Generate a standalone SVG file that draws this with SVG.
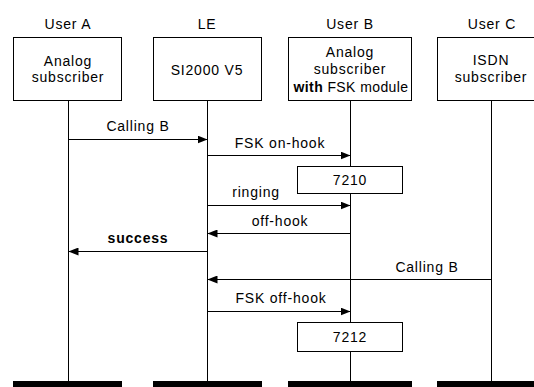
<svg xmlns="http://www.w3.org/2000/svg" width="534" height="387" viewBox="0 0 534 387">
<defs>
<style>
text{font-family:"Liberation Sans",Arial,sans-serif;font-size:14px;letter-spacing:0.8px;fill:#000;text-anchor:middle}
.b{font-weight:bold}
.tight{letter-spacing:0.4px}
.box{fill:#fff;stroke:#000;stroke-width:1}
.life{stroke:#000;stroke-width:1;fill:none}
.msg{stroke:#000;stroke-width:1;fill:none}
.bar{fill:#000}
</style>
<marker id="ah" viewBox="0 0 10 8" refX="10" refY="4" markerWidth="10" markerHeight="8" markerUnits="userSpaceOnUse" orient="auto">
<path d="M0,0 L10,4 L0,8 Z" fill="#000"/>
</marker>
</defs>
<rect width="534" height="387" fill="#fff"/>
<g id="lifelines">
<line class="life" x1="68.5" y1="101" x2="68.5" y2="381"/>
<line class="life" x1="207.5" y1="101" x2="207.5" y2="381"/>
<line class="life" x1="350.5" y1="101" x2="350.5" y2="381"/>
<line class="life" x1="491.5" y1="101" x2="491.5" y2="381"/>
</g>
<g id="userA">
<text x="68" y="29">User A</text>
<rect class="box" x="13.5" y="37.5" width="108" height="63"/>
<text x="68" y="66">Analog</text>
<text x="68" y="82">subscriber</text>
<rect class="bar" x="13" y="381" width="109" height="6"/>
</g>
<g id="LE">
<text x="207" y="29">LE</text>
<rect class="box" x="153.5" y="37.5" width="108" height="63"/>
<text x="207" y="75">SI2000 V5</text>
<rect class="bar" x="153" y="381" width="109" height="6"/>
</g>
<g id="userB">
<text x="350" y="29">User B</text>
<rect class="box" x="288.5" y="37.5" width="123" height="63"/>
<text x="350" y="57">Analog</text>
<text x="350" y="74">subscriber</text>
<text class="tight" x="351" y="92"><tspan class="b">with</tspan> FSK module</text>
<rect class="bar" x="288" y="381" width="124" height="6"/>
</g>
<g id="userC">
<text x="492" y="29">User C</text>
<rect class="box" x="437.5" y="37.5" width="110" height="63"/>
<text x="491" y="65">ISDN</text>
<text x="491" y="82">subscriber</text>
<rect class="bar" x="437" y="381" width="97" height="6"/>
</g>
<g id="t7210">
<rect class="box" x="297.5" y="166.5" width="105" height="27"/>
<text x="350" y="185">7210</text>
</g>
<g id="t7212">
<rect class="box" x="297.5" y="322.5" width="105" height="29"/>
<text x="350" y="342">7212</text>
</g>
<g id="connectors">
<line class="msg" x1="68.5" y1="139.5" x2="207.5" y2="139.5" marker-end="url(#ah)"/>
<text x="138" y="131">Calling B</text>
<line class="msg" x1="207.5" y1="155.5" x2="350.5" y2="155.5" marker-end="url(#ah)"/>
<text x="280" y="148">FSK on-hook</text>
<line class="msg" x1="207.5" y1="205.5" x2="350.5" y2="205.5" marker-end="url(#ah)"/>
<text x="256" y="197">ringing</text>
<line class="msg" x1="350.5" y1="233.5" x2="207.5" y2="233.5" marker-end="url(#ah)"/>
<text x="280" y="226">off-hook</text>
<line class="msg" x1="207.5" y1="251.5" x2="68.5" y2="251.5" marker-end="url(#ah)"/>
<text class="b" x="138" y="243">success</text>
<line class="msg" x1="491.5" y1="279.5" x2="207.5" y2="279.5" marker-end="url(#ah)"/>
<text x="427" y="272">Calling B</text>
<line class="msg" x1="207.5" y1="311.5" x2="350.5" y2="311.5" marker-end="url(#ah)"/>
<text x="281" y="303">FSK off-hook</text>
</g>
</svg>
